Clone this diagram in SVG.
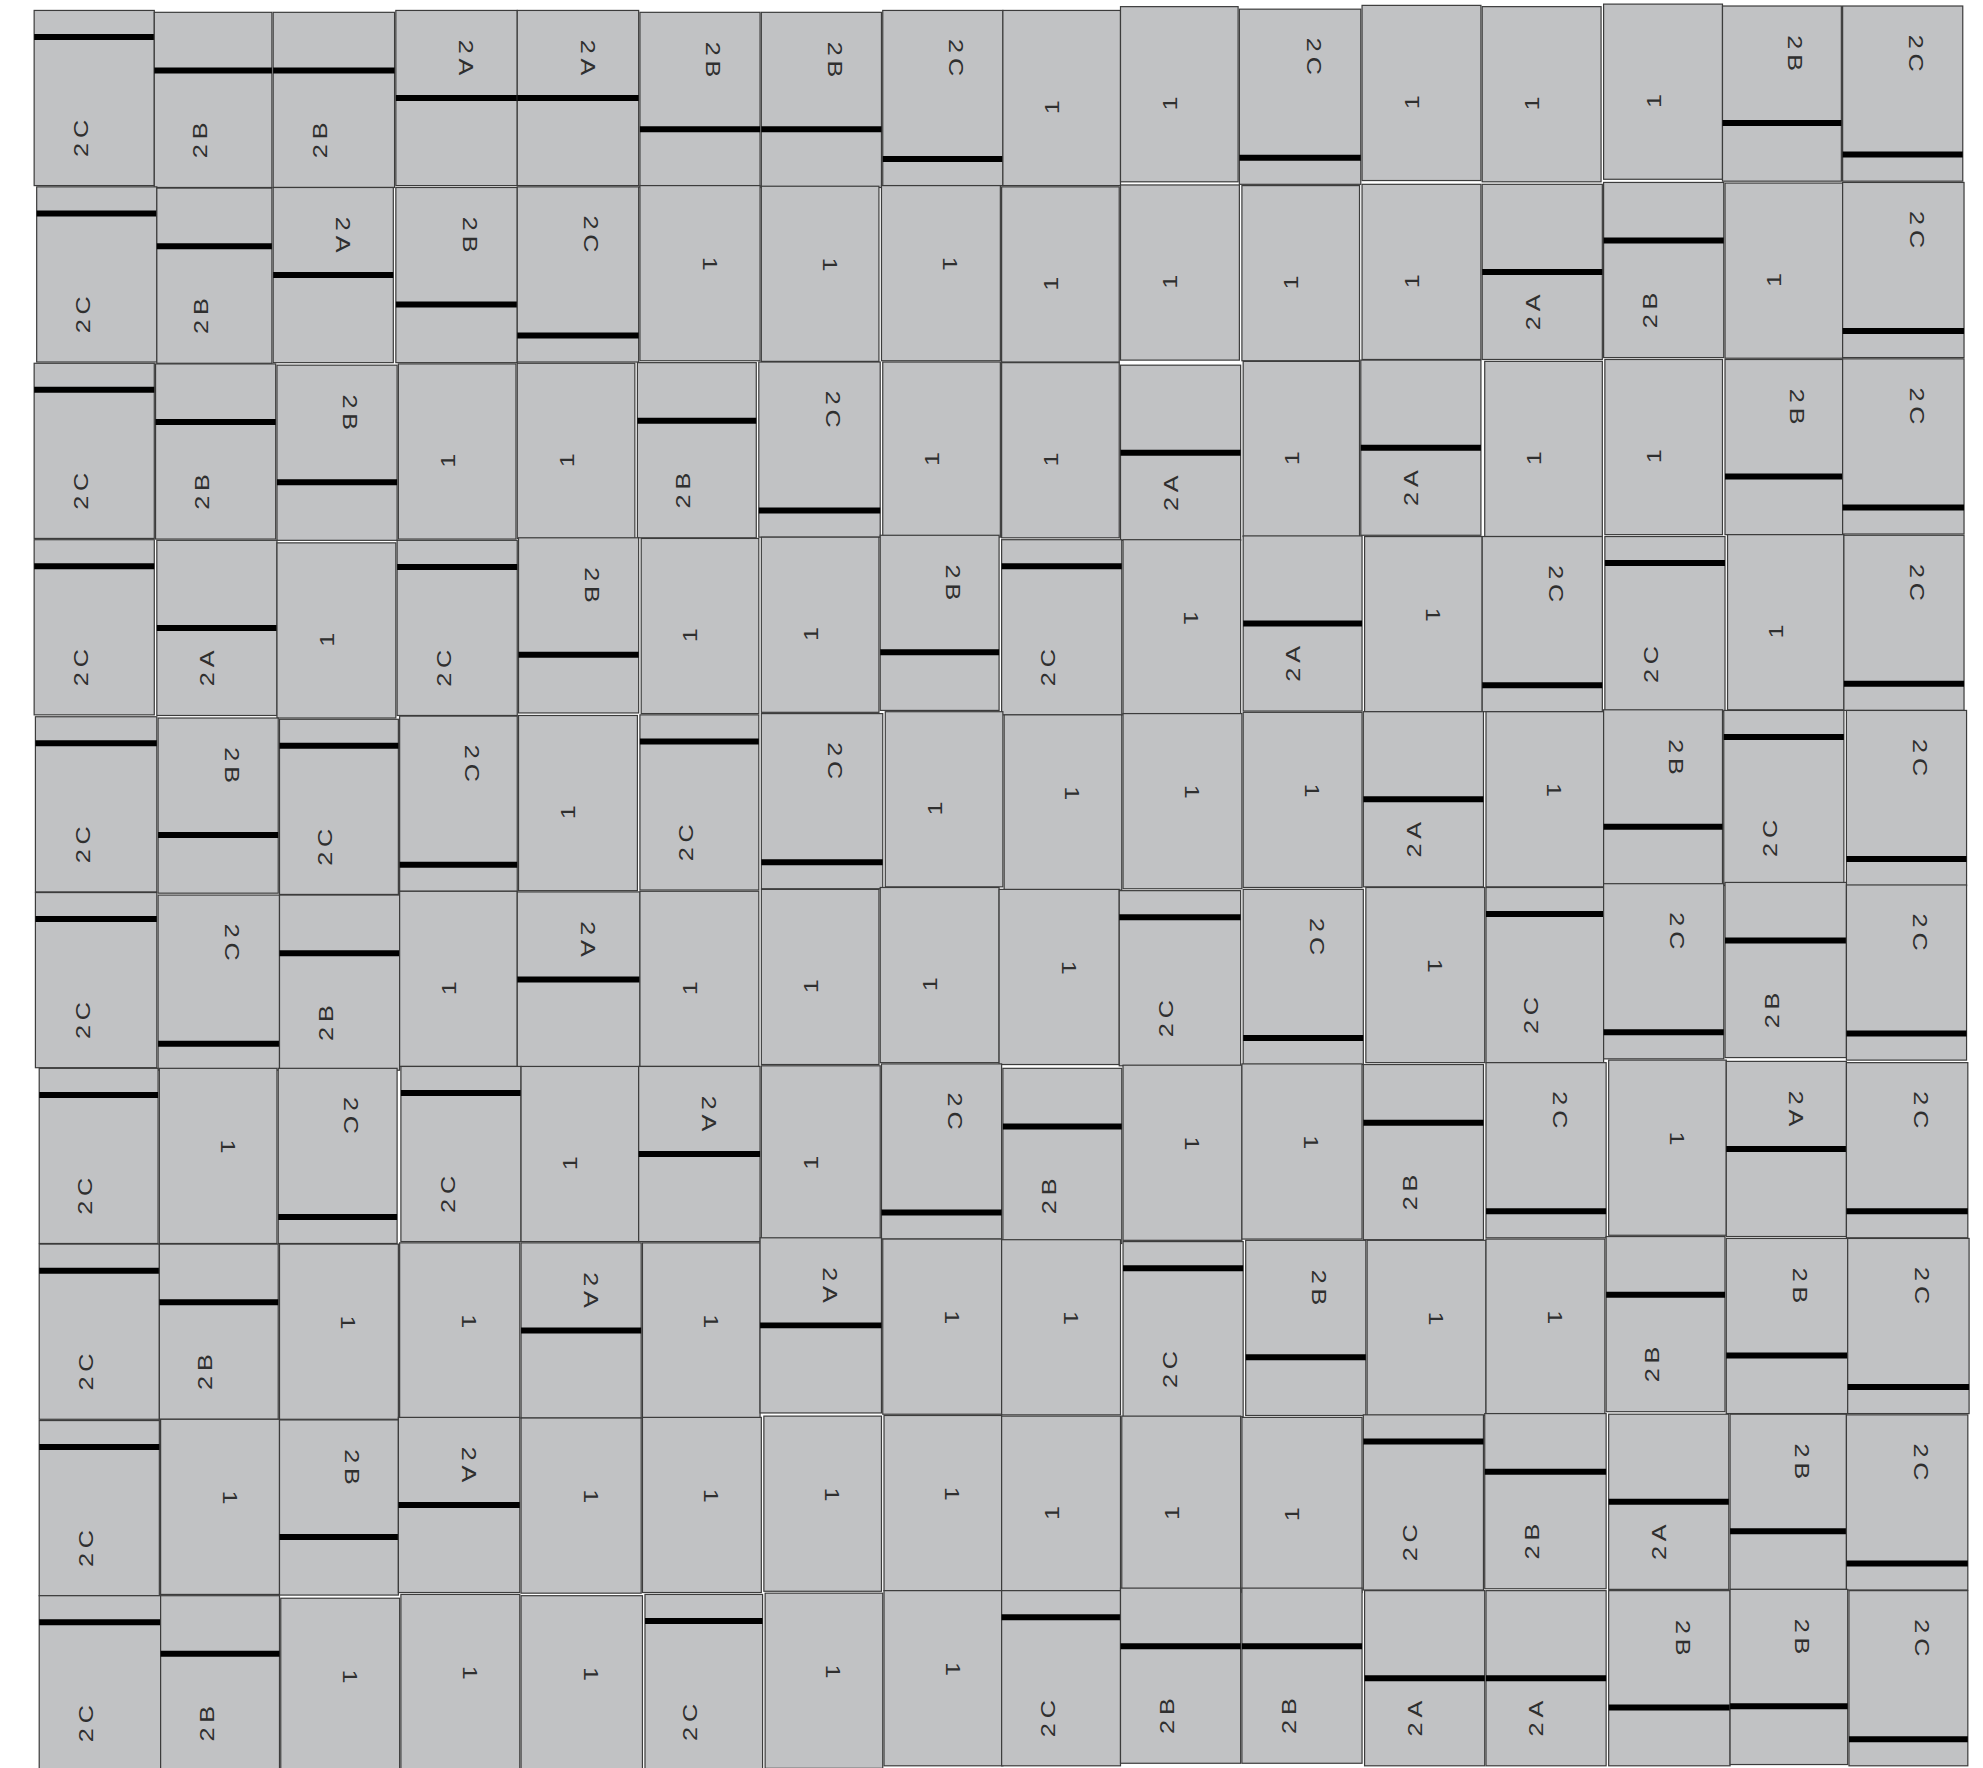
<svg xmlns="http://www.w3.org/2000/svg" width="1983" height="1768" viewBox="0 0 1983 1768">
<style>
.t{fill:#c1c2c4;stroke:#3c3c3c;stroke-width:0.95}
.b{stroke:#000;stroke-width:4.74}
.l{font-family:"Liberation Sans",Arial,sans-serif;font-size:16.6px;fill:#2f2f2f;letter-spacing:3.2px;text-anchor:middle}
</style>
<rect width="1983" height="1768" fill="#fff"/>
<g id="tiles" transform="scale(1.26467)">
<g id="r1c1" transform="translate(74.5,77.5)"><rect class="t" x="-47.5" y="-69.25" width="95" height="138.5"/><line class="b" x1="-47.5" x2="47.5" y1="-48.25" y2="-48.25"/><text class="l" transform="translate(-11,31.6) rotate(-90) scale(1.2,1)" x="1.3" y="5.9">2C</text></g>
<g id="r1c2" transform="translate(168.5,79)"><rect class="t" x="-46.5" y="-69.25" width="93" height="138.5"/><line class="b" x1="-46.5" x2="46.5" y1="-23.25" y2="-23.25"/><text class="l" transform="translate(-11,31.6) rotate(-90) scale(1.2,1)" x="1.3" y="5.9">2B</text></g>
<g id="r1c3" transform="translate(264,79)"><rect class="t" x="-48" y="-69.25" width="96" height="138.5"/><line class="b" x1="-48" x2="48" y1="-23.25" y2="-23.25"/><text class="l" transform="translate(-11,31.6) rotate(-90) scale(1.2,1)" x="1.3" y="5.9">2B</text></g>
<g id="r1c4" transform="translate(361,77.5) rotate(180)"><rect class="t" x="-48" y="-69.25" width="96" height="138.5"/><line class="b" x1="-48" x2="48" y1="0" y2="0"/><text class="l" transform="translate(-8,31.6) rotate(-90) scale(1.2,1)" x="1.3" y="5.9">2A</text></g>
<g id="r1c5" transform="translate(457,77.5) rotate(180)"><rect class="t" x="-48" y="-69.25" width="96" height="138.5"/><line class="b" x1="-48" x2="48" y1="0" y2="0"/><text class="l" transform="translate(-8,31.6) rotate(-90) scale(1.2,1)" x="1.3" y="5.9">2A</text></g>
<g id="r1c6" transform="translate(553.5,79) rotate(180)"><rect class="t" x="-47.5" y="-69.25" width="95" height="138.5"/><line class="b" x1="-47.5" x2="47.5" y1="-23.25" y2="-23.25"/><text class="l" transform="translate(-11,31.6) rotate(-90) scale(1.2,1)" x="1.3" y="5.9">2B</text></g>
<g id="r1c7" transform="translate(649.5,79) rotate(180)"><rect class="t" x="-47.5" y="-69.25" width="95" height="138.5"/><line class="b" x1="-47.5" x2="47.5" y1="-23.25" y2="-23.25"/><text class="l" transform="translate(-11,31.6) rotate(-90) scale(1.2,1)" x="1.3" y="5.9">2B</text></g>
<g id="r1c8" transform="translate(745.5,77.5) rotate(180)"><rect class="t" x="-47.5" y="-69.25" width="95" height="138.5"/><line class="b" x1="-47.5" x2="47.5" y1="-48.25" y2="-48.25"/><text class="l" transform="translate(-11,31.6) rotate(-90) scale(1.2,1)" x="1.3" y="5.9">2C</text></g>
<g id="r1c9" transform="translate(839.5,77.5)"><rect class="t" x="-46.5" y="-69.25" width="93" height="138.5"/><text class="l" transform="translate(-7.9,7) rotate(-90) scale(1.2,1)" x="1.3" y="5.9">1</text></g>
<g id="r1c10" transform="translate(932.5,74.5)"><rect class="t" x="-46.5" y="-69.25" width="93" height="138.5"/><text class="l" transform="translate(-7.9,7) rotate(-90) scale(1.2,1)" x="1.3" y="5.9">1</text></g>
<g id="r1c11" transform="translate(1028,76.5) rotate(180)"><rect class="t" x="-48" y="-69.25" width="96" height="138.5"/><line class="b" x1="-48" x2="48" y1="-48.25" y2="-48.25"/><text class="l" transform="translate(-11,31.6) rotate(-90) scale(1.2,1)" x="1.3" y="5.9">2C</text></g>
<g id="r1c12" transform="translate(1124,73.5)"><rect class="t" x="-47" y="-69.25" width="94" height="138.5"/><text class="l" transform="translate(-7.9,7) rotate(-90) scale(1.2,1)" x="1.3" y="5.9">1</text></g>
<g id="r1c13" transform="translate(1219,74.5)"><rect class="t" x="-47" y="-69.25" width="94" height="138.5"/><text class="l" transform="translate(-7.9,7) rotate(-90) scale(1.2,1)" x="1.3" y="5.9">1</text></g>
<g id="r1c14" transform="translate(1315,72.5)"><rect class="t" x="-47" y="-69.25" width="94" height="138.5"/><text class="l" transform="translate(-7.9,7) rotate(-90) scale(1.2,1)" x="1.3" y="5.9">1</text></g>
<g id="r1c15" transform="translate(1409,74) rotate(180)"><rect class="t" x="-47" y="-69.25" width="94" height="138.5"/><line class="b" x1="-47" x2="47" y1="-23.25" y2="-23.25"/><text class="l" transform="translate(-11,31.6) rotate(-90) scale(1.2,1)" x="1.3" y="5.9">2B</text></g>
<g id="r1c16" transform="translate(1504.5,74) rotate(180)"><rect class="t" x="-47.5" y="-69.25" width="95" height="138.5"/><line class="b" x1="-47.5" x2="47.5" y1="-48.25" y2="-48.25"/><text class="l" transform="translate(-11,31.6) rotate(-90) scale(1.2,1)" x="1.3" y="5.9">2C</text></g>

<g id="r2c1" transform="translate(76.5,217)"><rect class="t" x="-47.5" y="-69.25" width="95" height="138.5"/><line class="b" x1="-47.5" x2="47.5" y1="-48.25" y2="-48.25"/><text class="l" transform="translate(-11,31.6) rotate(-90) scale(1.2,1)" x="1.3" y="5.9">2C</text></g>
<g id="r2c2" transform="translate(169.5,218)"><rect class="t" x="-45.5" y="-69.25" width="91" height="138.5"/><line class="b" x1="-45.5" x2="45.5" y1="-23.25" y2="-23.25"/><text class="l" transform="translate(-11,31.6) rotate(-90) scale(1.2,1)" x="1.3" y="5.9">2B</text></g>
<g id="r2c3" transform="translate(263.5,217.5) rotate(180)"><rect class="t" x="-47.5" y="-69.25" width="95" height="138.5"/><line class="b" x1="-47.5" x2="47.5" y1="0" y2="0"/><text class="l" transform="translate(-8,31.6) rotate(-90) scale(1.2,1)" x="1.3" y="5.9">2A</text></g>
<g id="r2c4" transform="translate(361,217.5) rotate(180)"><rect class="t" x="-48" y="-69.25" width="96" height="138.5"/><line class="b" x1="-48" x2="48" y1="-23.25" y2="-23.25"/><text class="l" transform="translate(-11,31.6) rotate(-90) scale(1.2,1)" x="1.3" y="5.9">2B</text></g>
<g id="r2c5" transform="translate(457,217) rotate(180)"><rect class="t" x="-48" y="-69.25" width="96" height="138.5"/><line class="b" x1="-48" x2="48" y1="-48.25" y2="-48.25"/><text class="l" transform="translate(-11,31.6) rotate(-90) scale(1.2,1)" x="1.3" y="5.9">2C</text></g>
<g id="r2c6" transform="translate(553.5,216) rotate(180)"><rect class="t" x="-47.5" y="-69.25" width="95" height="138.5"/><text class="l" transform="translate(-7.9,7) rotate(-90) scale(1.2,1)" x="1.3" y="5.9">1</text></g>
<g id="r2c7" transform="translate(648.5,216.5) rotate(180)"><rect class="t" x="-46.5" y="-69.25" width="93" height="138.5"/><text class="l" transform="translate(-7.9,7) rotate(-90) scale(1.2,1)" x="1.3" y="5.9">1</text></g>
<g id="r2c8" transform="translate(744,216) rotate(180)"><rect class="t" x="-47" y="-69.25" width="94" height="138.5"/><text class="l" transform="translate(-7.9,7) rotate(-90) scale(1.2,1)" x="1.3" y="5.9">1</text></g>
<g id="r2c9" transform="translate(838.5,217)"><rect class="t" x="-46.5" y="-69.25" width="93" height="138.5"/><text class="l" transform="translate(-7.9,7) rotate(-90) scale(1.2,1)" x="1.3" y="5.9">1</text></g>
<g id="r2c10" transform="translate(933,215.5)"><rect class="t" x="-47" y="-69.25" width="94" height="138.5"/><text class="l" transform="translate(-7.9,7) rotate(-90) scale(1.2,1)" x="1.3" y="5.9">1</text></g>
<g id="r2c11" transform="translate(1028.5,216)"><rect class="t" x="-46.5" y="-69.25" width="93" height="138.5"/><text class="l" transform="translate(-7.9,7) rotate(-90) scale(1.2,1)" x="1.3" y="5.9">1</text></g>
<g id="r2c12" transform="translate(1124,215)"><rect class="t" x="-47" y="-69.25" width="94" height="138.5"/><text class="l" transform="translate(-7.9,7) rotate(-90) scale(1.2,1)" x="1.3" y="5.9">1</text></g>
<g id="r2c13" transform="translate(1219.5,215)"><rect class="t" x="-47.5" y="-69.25" width="95" height="138.5"/><line class="b" x1="-47.5" x2="47.5" y1="0" y2="0"/><text class="l" transform="translate(-8,31.6) rotate(-90) scale(1.2,1)" x="1.3" y="5.9">2A</text></g>
<g id="r2c14" transform="translate(1315.5,213.5)"><rect class="t" x="-47.5" y="-69.25" width="95" height="138.5"/><line class="b" x1="-47.5" x2="47.5" y1="-23.25" y2="-23.25"/><text class="l" transform="translate(-11,31.6) rotate(-90) scale(1.2,1)" x="1.3" y="5.9">2B</text></g>
<g id="r2c15" transform="translate(1410.5,214)"><rect class="t" x="-46.5" y="-69.25" width="93" height="138.5"/><text class="l" transform="translate(-7.9,7) rotate(-90) scale(1.2,1)" x="1.3" y="5.9">1</text></g>
<g id="r2c16" transform="translate(1505,213.5) rotate(180)"><rect class="t" x="-48" y="-69.25" width="96" height="138.5"/><line class="b" x1="-48" x2="48" y1="-48.25" y2="-48.25"/><text class="l" transform="translate(-11,31.6) rotate(-90) scale(1.2,1)" x="1.3" y="5.9">2C</text></g>

<g id="r3c1" transform="translate(74.5,356.5)"><rect class="t" x="-47.5" y="-69.25" width="95" height="138.5"/><line class="b" x1="-47.5" x2="47.5" y1="-48.25" y2="-48.25"/><text class="l" transform="translate(-11,31.6) rotate(-90) scale(1.2,1)" x="1.3" y="5.9">2C</text></g>
<g id="r3c2" transform="translate(170.5,357)"><rect class="t" x="-47.5" y="-69.25" width="95" height="138.5"/><line class="b" x1="-47.5" x2="47.5" y1="-23.25" y2="-23.25"/><text class="l" transform="translate(-11,31.6) rotate(-90) scale(1.2,1)" x="1.3" y="5.9">2B</text></g>
<g id="r3c3" transform="translate(266.5,358) rotate(180)"><rect class="t" x="-47.5" y="-69.25" width="95" height="138.5"/><line class="b" x1="-47.5" x2="47.5" y1="-23.25" y2="-23.25"/><text class="l" transform="translate(-11,31.6) rotate(-90) scale(1.2,1)" x="1.3" y="5.9">2B</text></g>
<g id="r3c4" transform="translate(361.5,357)"><rect class="t" x="-46.5" y="-69.25" width="93" height="138.5"/><text class="l" transform="translate(-7.9,7) rotate(-90) scale(1.2,1)" x="1.3" y="5.9">1</text></g>
<g id="r3c5" transform="translate(455.5,356.5)"><rect class="t" x="-46.5" y="-69.25" width="93" height="138.5"/><text class="l" transform="translate(-7.9,7) rotate(-90) scale(1.2,1)" x="1.3" y="5.9">1</text></g>
<g id="r3c6" transform="translate(551,356)"><rect class="t" x="-47" y="-69.25" width="94" height="138.5"/><line class="b" x1="-47" x2="47" y1="-23.25" y2="-23.25"/><text class="l" transform="translate(-11,31.6) rotate(-90) scale(1.2,1)" x="1.3" y="5.9">2B</text></g>
<g id="r3c7" transform="translate(648,355.5) rotate(180)"><rect class="t" x="-48" y="-69.25" width="96" height="138.5"/><line class="b" x1="-48" x2="48" y1="-48.25" y2="-48.25"/><text class="l" transform="translate(-11,31.6) rotate(-90) scale(1.2,1)" x="1.3" y="5.9">2C</text></g>
<g id="r3c8" transform="translate(744.5,355.5)"><rect class="t" x="-46.5" y="-69.25" width="93" height="138.5"/><text class="l" transform="translate(-7.9,7) rotate(-90) scale(1.2,1)" x="1.3" y="5.9">1</text></g>
<g id="r3c9" transform="translate(838.5,356)"><rect class="t" x="-46.5" y="-69.25" width="93" height="138.5"/><text class="l" transform="translate(-7.9,7) rotate(-90) scale(1.2,1)" x="1.3" y="5.9">1</text></g>
<g id="r3c10" transform="translate(933.5,358)"><rect class="t" x="-47.5" y="-69.25" width="95" height="138.5"/><line class="b" x1="-47.5" x2="47.5" y1="0" y2="0"/><text class="l" transform="translate(-8,31.6) rotate(-90) scale(1.2,1)" x="1.3" y="5.9">2A</text></g>
<g id="r3c11" transform="translate(1029,355)"><rect class="t" x="-46" y="-69.25" width="92" height="138.5"/><text class="l" transform="translate(-7.9,7) rotate(-90) scale(1.2,1)" x="1.3" y="5.9">1</text></g>
<g id="r3c12" transform="translate(1123.5,354)"><rect class="t" x="-47.5" y="-69.25" width="95" height="138.5"/><line class="b" x1="-47.5" x2="47.5" y1="0" y2="0"/><text class="l" transform="translate(-8,31.6) rotate(-90) scale(1.2,1)" x="1.3" y="5.9">2A</text></g>
<g id="r3c13" transform="translate(1220.5,355)"><rect class="t" x="-46.5" y="-69.25" width="93" height="138.5"/><text class="l" transform="translate(-7.9,7) rotate(-90) scale(1.2,1)" x="1.3" y="5.9">1</text></g>
<g id="r3c14" transform="translate(1315.5,353.5)"><rect class="t" x="-46.5" y="-69.25" width="93" height="138.5"/><text class="l" transform="translate(-7.9,7) rotate(-90) scale(1.2,1)" x="1.3" y="5.9">1</text></g>
<g id="r3c15" transform="translate(1410.5,353.5) rotate(180)"><rect class="t" x="-46.5" y="-69.25" width="93" height="138.5"/><line class="b" x1="-46.5" x2="46.5" y1="-23.25" y2="-23.25"/><text class="l" transform="translate(-11,31.6) rotate(-90) scale(1.2,1)" x="1.3" y="5.9">2B</text></g>
<g id="r3c16" transform="translate(1505,353) rotate(180)"><rect class="t" x="-48" y="-69.25" width="96" height="138.5"/><line class="b" x1="-48" x2="48" y1="-48.25" y2="-48.25"/><text class="l" transform="translate(-11,31.6) rotate(-90) scale(1.2,1)" x="1.3" y="5.9">2C</text></g>

<g id="r4c1" transform="translate(74.5,496)"><rect class="t" x="-47.5" y="-69.25" width="95" height="138.5"/><line class="b" x1="-47.5" x2="47.5" y1="-48.25" y2="-48.25"/><text class="l" transform="translate(-11,31.6) rotate(-90) scale(1.2,1)" x="1.3" y="5.9">2C</text></g>
<g id="r4c2" transform="translate(171.5,496.5)"><rect class="t" x="-47.5" y="-69.25" width="95" height="138.5"/><line class="b" x1="-47.5" x2="47.5" y1="0" y2="0"/><text class="l" transform="translate(-8,31.6) rotate(-90) scale(1.2,1)" x="1.3" y="5.9">2A</text></g>
<g id="r4c3" transform="translate(266,498.5)"><rect class="t" x="-47" y="-69.25" width="94" height="138.5"/><text class="l" transform="translate(-7.9,7) rotate(-90) scale(1.2,1)" x="1.3" y="5.9">1</text></g>
<g id="r4c4" transform="translate(361.5,496.5)"><rect class="t" x="-47.5" y="-69.25" width="95" height="138.5"/><line class="b" x1="-47.5" x2="47.5" y1="-48.25" y2="-48.25"/><text class="l" transform="translate(-11,31.6) rotate(-90) scale(1.2,1)" x="1.3" y="5.9">2C</text></g>
<g id="r4c5" transform="translate(457.5,494.5) rotate(180)"><rect class="t" x="-47.5" y="-69.25" width="95" height="138.5"/><line class="b" x1="-47.5" x2="47.5" y1="-23.25" y2="-23.25"/><text class="l" transform="translate(-11,31.6) rotate(-90) scale(1.2,1)" x="1.3" y="5.9">2B</text></g>
<g id="r4c6" transform="translate(553.5,495)"><rect class="t" x="-46.5" y="-69.25" width="93" height="138.5"/><text class="l" transform="translate(-7.9,7) rotate(-90) scale(1.2,1)" x="1.3" y="5.9">1</text></g>
<g id="r4c7" transform="translate(648.5,494)"><rect class="t" x="-46.5" y="-69.25" width="93" height="138.5"/><text class="l" transform="translate(-7.9,7) rotate(-90) scale(1.2,1)" x="1.3" y="5.9">1</text></g>
<g id="r4c8" transform="translate(743,492.5) rotate(180)"><rect class="t" x="-47" y="-69.25" width="94" height="138.5"/><line class="b" x1="-47" x2="47" y1="-23.25" y2="-23.25"/><text class="l" transform="translate(-11,31.6) rotate(-90) scale(1.2,1)" x="1.3" y="5.9">2B</text></g>
<g id="r4c9" transform="translate(839.5,496)"><rect class="t" x="-47.5" y="-69.25" width="95" height="138.5"/><line class="b" x1="-47.5" x2="47.5" y1="-48.25" y2="-48.25"/><text class="l" transform="translate(-11,31.6) rotate(-90) scale(1.2,1)" x="1.3" y="5.9">2C</text></g>
<g id="r4c10" transform="translate(934.5,496) rotate(180)"><rect class="t" x="-46.5" y="-69.25" width="93" height="138.5"/><text class="l" transform="translate(-7.9,7) rotate(-90) scale(1.2,1)" x="1.3" y="5.9">1</text></g>
<g id="r4c11" transform="translate(1030,493)"><rect class="t" x="-47" y="-69.25" width="94" height="138.5"/><line class="b" x1="-47" x2="47" y1="0" y2="0"/><text class="l" transform="translate(-8,31.6) rotate(-90) scale(1.2,1)" x="1.3" y="5.9">2A</text></g>
<g id="r4c12" transform="translate(1125.5,493.5) rotate(180)"><rect class="t" x="-46.5" y="-69.25" width="93" height="138.5"/><text class="l" transform="translate(-7.9,7) rotate(-90) scale(1.2,1)" x="1.3" y="5.9">1</text></g>
<g id="r4c13" transform="translate(1219.5,493.5) rotate(180)"><rect class="t" x="-47.5" y="-69.25" width="95" height="138.5"/><line class="b" x1="-47.5" x2="47.5" y1="-48.25" y2="-48.25"/><text class="l" transform="translate(-11,31.6) rotate(-90) scale(1.2,1)" x="1.3" y="5.9">2C</text></g>
<g id="r4c14" transform="translate(1316.5,493.5)"><rect class="t" x="-47.5" y="-69.25" width="95" height="138.5"/><line class="b" x1="-47.5" x2="47.5" y1="-48.25" y2="-48.25"/><text class="l" transform="translate(-11,31.6) rotate(-90) scale(1.2,1)" x="1.3" y="5.9">2C</text></g>
<g id="r4c15" transform="translate(1412,492)"><rect class="t" x="-46" y="-69.25" width="92" height="138.5"/><text class="l" transform="translate(-7.9,7) rotate(-90) scale(1.2,1)" x="1.3" y="5.9">1</text></g>
<g id="r4c16" transform="translate(1505.5,492.5) rotate(180)"><rect class="t" x="-47.5" y="-69.25" width="95" height="138.5"/><line class="b" x1="-47.5" x2="47.5" y1="-48.25" y2="-48.25"/><text class="l" transform="translate(-11,31.6) rotate(-90) scale(1.2,1)" x="1.3" y="5.9">2C</text></g>

<g id="r5c1" transform="translate(76,636)"><rect class="t" x="-48" y="-69.25" width="96" height="138.5"/><line class="b" x1="-48" x2="48" y1="-48.25" y2="-48.25"/><text class="l" transform="translate(-11,31.6) rotate(-90) scale(1.2,1)" x="1.3" y="5.9">2C</text></g>
<g id="r5c2" transform="translate(172.5,637) rotate(180)"><rect class="t" x="-47.5" y="-69.25" width="95" height="138.5"/><line class="b" x1="-47.5" x2="47.5" y1="-23.25" y2="-23.25"/><text class="l" transform="translate(-11,31.6) rotate(-90) scale(1.2,1)" x="1.3" y="5.9">2B</text></g>
<g id="r5c3" transform="translate(268,638)"><rect class="t" x="-47" y="-69.25" width="94" height="138.5"/><line class="b" x1="-47" x2="47" y1="-48.25" y2="-48.25"/><text class="l" transform="translate(-11,31.6) rotate(-90) scale(1.2,1)" x="1.3" y="5.9">2C</text></g>
<g id="r5c4" transform="translate(362.5,635.5) rotate(180)"><rect class="t" x="-46.5" y="-69.25" width="93" height="138.5"/><line class="b" x1="-46.5" x2="46.5" y1="-48.25" y2="-48.25"/><text class="l" transform="translate(-11,31.6) rotate(-90) scale(1.2,1)" x="1.3" y="5.9">2C</text></g>
<g id="r5c5" transform="translate(457,635)"><rect class="t" x="-47" y="-69.25" width="94" height="138.5"/><text class="l" transform="translate(-7.9,7) rotate(-90) scale(1.2,1)" x="1.3" y="5.9">1</text></g>
<g id="r5c6" transform="translate(553,634.5)"><rect class="t" x="-47" y="-69.25" width="94" height="138.5"/><line class="b" x1="-47" x2="47" y1="-48.25" y2="-48.25"/><text class="l" transform="translate(-11,31.6) rotate(-90) scale(1.2,1)" x="1.3" y="5.9">2C</text></g>
<g id="r5c7" transform="translate(650,633.5) rotate(180)"><rect class="t" x="-48" y="-69.25" width="96" height="138.5"/><line class="b" x1="-48" x2="48" y1="-48.25" y2="-48.25"/><text class="l" transform="translate(-11,31.6) rotate(-90) scale(1.2,1)" x="1.3" y="5.9">2C</text></g>
<g id="r5c8" transform="translate(746.5,632)"><rect class="t" x="-46.5" y="-69.25" width="93" height="138.5"/><text class="l" transform="translate(-7.9,7) rotate(-90) scale(1.2,1)" x="1.3" y="5.9">1</text></g>
<g id="r5c9" transform="translate(840.5,634.5) rotate(180)"><rect class="t" x="-46.5" y="-69.25" width="93" height="138.5"/><text class="l" transform="translate(-7.9,7) rotate(-90) scale(1.2,1)" x="1.3" y="5.9">1</text></g>
<g id="r5c10" transform="translate(935,633.5) rotate(180)"><rect class="t" x="-47" y="-69.25" width="94" height="138.5"/><text class="l" transform="translate(-7.9,7) rotate(-90) scale(1.2,1)" x="1.3" y="5.9">1</text></g>
<g id="r5c11" transform="translate(1030,632.5) rotate(180)"><rect class="t" x="-47" y="-69.25" width="94" height="138.5"/><text class="l" transform="translate(-7.9,7) rotate(-90) scale(1.2,1)" x="1.3" y="5.9">1</text></g>
<g id="r5c12" transform="translate(1125.5,632)"><rect class="t" x="-47.5" y="-69.25" width="95" height="138.5"/><line class="b" x1="-47.5" x2="47.5" y1="0" y2="0"/><text class="l" transform="translate(-8,31.6) rotate(-90) scale(1.2,1)" x="1.3" y="5.9">2A</text></g>
<g id="r5c13" transform="translate(1221.5,632) rotate(180)"><rect class="t" x="-46.5" y="-69.25" width="93" height="138.5"/><text class="l" transform="translate(-7.9,7) rotate(-90) scale(1.2,1)" x="1.3" y="5.9">1</text></g>
<g id="r5c14" transform="translate(1315,630.5) rotate(180)"><rect class="t" x="-47" y="-69.25" width="94" height="138.5"/><line class="b" x1="-47" x2="47" y1="-23.25" y2="-23.25"/><text class="l" transform="translate(-11,31.6) rotate(-90) scale(1.2,1)" x="1.3" y="5.9">2B</text></g>
<g id="r5c15" transform="translate(1410.5,631)"><rect class="t" x="-47.5" y="-69.25" width="95" height="138.5"/><line class="b" x1="-47.5" x2="47.5" y1="-48.25" y2="-48.25"/><text class="l" transform="translate(-11,31.6) rotate(-90) scale(1.2,1)" x="1.3" y="5.9">2C</text></g>
<g id="r5c16" transform="translate(1507.5,631) rotate(180)"><rect class="t" x="-47.5" y="-69.25" width="95" height="138.5"/><line class="b" x1="-47.5" x2="47.5" y1="-48.25" y2="-48.25"/><text class="l" transform="translate(-11,31.6) rotate(-90) scale(1.2,1)" x="1.3" y="5.9">2C</text></g>

<g id="r6c1" transform="translate(76,775)"><rect class="t" x="-48" y="-69.25" width="96" height="138.5"/><line class="b" x1="-48" x2="48" y1="-48.25" y2="-48.25"/><text class="l" transform="translate(-11,31.6) rotate(-90) scale(1.2,1)" x="1.3" y="5.9">2C</text></g>
<g id="r6c2" transform="translate(173,777) rotate(180)"><rect class="t" x="-48" y="-69.25" width="96" height="138.5"/><line class="b" x1="-48" x2="48" y1="-48.25" y2="-48.25"/><text class="l" transform="translate(-11,31.6) rotate(-90) scale(1.2,1)" x="1.3" y="5.9">2C</text></g>
<g id="r6c3" transform="translate(268.5,777)"><rect class="t" x="-47.5" y="-69.25" width="95" height="138.5"/><line class="b" x1="-47.5" x2="47.5" y1="-23.25" y2="-23.25"/><text class="l" transform="translate(-11,31.6) rotate(-90) scale(1.2,1)" x="1.3" y="5.9">2B</text></g>
<g id="r6c4" transform="translate(362.5,774)"><rect class="t" x="-46.5" y="-69.25" width="93" height="138.5"/><text class="l" transform="translate(-7.9,7) rotate(-90) scale(1.2,1)" x="1.3" y="5.9">1</text></g>
<g id="r6c5" transform="translate(457.5,774.5) rotate(180)"><rect class="t" x="-48.5" y="-69.25" width="97" height="138.5"/><line class="b" x1="-48.5" x2="48.5" y1="0" y2="0"/><text class="l" transform="translate(-8,31.6) rotate(-90) scale(1.2,1)" x="1.3" y="5.9">2A</text></g>
<g id="r6c6" transform="translate(553,774)"><rect class="t" x="-47" y="-69.25" width="94" height="138.5"/><text class="l" transform="translate(-7.9,7) rotate(-90) scale(1.2,1)" x="1.3" y="5.9">1</text></g>
<g id="r6c7" transform="translate(648.5,772.5)"><rect class="t" x="-46.5" y="-69.25" width="93" height="138.5"/><text class="l" transform="translate(-7.9,7) rotate(-90) scale(1.2,1)" x="1.3" y="5.9">1</text></g>
<g id="r6c8" transform="translate(743,771)"><rect class="t" x="-47" y="-69.25" width="94" height="138.5"/><text class="l" transform="translate(-7.9,7) rotate(-90) scale(1.2,1)" x="1.3" y="5.9">1</text></g>
<g id="r6c9" transform="translate(837.5,772.5) rotate(180)"><rect class="t" x="-47.5" y="-69.25" width="95" height="138.5"/><text class="l" transform="translate(-7.9,7) rotate(-90) scale(1.2,1)" x="1.3" y="5.9">1</text></g>
<g id="r6c10" transform="translate(933,773.5)"><rect class="t" x="-48" y="-69.25" width="96" height="138.5"/><line class="b" x1="-48" x2="48" y1="-48.25" y2="-48.25"/><text class="l" transform="translate(-11,31.6) rotate(-90) scale(1.2,1)" x="1.3" y="5.9">2C</text></g>
<g id="r6c11" transform="translate(1030.5,772.5) rotate(180)"><rect class="t" x="-47.5" y="-69.25" width="95" height="138.5"/><line class="b" x1="-47.5" x2="47.5" y1="-48.25" y2="-48.25"/><text class="l" transform="translate(-11,31.6) rotate(-90) scale(1.2,1)" x="1.3" y="5.9">2C</text></g>
<g id="r6c12" transform="translate(1127,771) rotate(180)"><rect class="t" x="-47" y="-69.25" width="94" height="138.5"/><text class="l" transform="translate(-7.9,7) rotate(-90) scale(1.2,1)" x="1.3" y="5.9">1</text></g>
<g id="r6c13" transform="translate(1221.5,771)"><rect class="t" x="-46.5" y="-69.25" width="93" height="138.5"/><line class="b" x1="-46.5" x2="46.5" y1="-48.25" y2="-48.25"/><text class="l" transform="translate(-11,31.6) rotate(-90) scale(1.2,1)" x="1.3" y="5.9">2C</text></g>
<g id="r6c14" transform="translate(1315.5,768) rotate(180)"><rect class="t" x="-47.5" y="-69.25" width="95" height="138.5"/><line class="b" x1="-47.5" x2="47.5" y1="-48.25" y2="-48.25"/><text class="l" transform="translate(-11,31.6) rotate(-90) scale(1.2,1)" x="1.3" y="5.9">2C</text></g>
<g id="r6c15" transform="translate(1412,767)"><rect class="t" x="-48" y="-69.25" width="96" height="138.5"/><line class="b" x1="-48" x2="48" y1="-23.25" y2="-23.25"/><text class="l" transform="translate(-11,31.6) rotate(-90) scale(1.2,1)" x="1.3" y="5.9">2B</text></g>
<g id="r6c16" transform="translate(1507.5,769) rotate(180)"><rect class="t" x="-47.5" y="-69.25" width="95" height="138.5"/><line class="b" x1="-47.5" x2="47.5" y1="-48.25" y2="-48.25"/><text class="l" transform="translate(-11,31.6) rotate(-90) scale(1.2,1)" x="1.3" y="5.9">2C</text></g>

<g id="r7c1" transform="translate(78,914)"><rect class="t" x="-47" y="-69.25" width="94" height="138.5"/><line class="b" x1="-47" x2="47" y1="-48.25" y2="-48.25"/><text class="l" transform="translate(-11,31.6) rotate(-90) scale(1.2,1)" x="1.3" y="5.9">2C</text></g>
<g id="r7c2" transform="translate(172.5,914) rotate(180)"><rect class="t" x="-46.5" y="-69.25" width="93" height="138.5"/><text class="l" transform="translate(-7.9,7) rotate(-90) scale(1.2,1)" x="1.3" y="5.9">1</text></g>
<g id="r7c3" transform="translate(267,914) rotate(180)"><rect class="t" x="-47" y="-69.25" width="94" height="138.5"/><line class="b" x1="-47" x2="47" y1="-48.25" y2="-48.25"/><text class="l" transform="translate(-11,31.6) rotate(-90) scale(1.2,1)" x="1.3" y="5.9">2C</text></g>
<g id="r7c4" transform="translate(364.5,912.5)"><rect class="t" x="-47.5" y="-69.25" width="95" height="138.5"/><line class="b" x1="-47.5" x2="47.5" y1="-48.25" y2="-48.25"/><text class="l" transform="translate(-11,31.6) rotate(-90) scale(1.2,1)" x="1.3" y="5.9">2C</text></g>
<g id="r7c5" transform="translate(458.5,912.5)"><rect class="t" x="-46.5" y="-69.25" width="93" height="138.5"/><text class="l" transform="translate(-7.9,7) rotate(-90) scale(1.2,1)" x="1.3" y="5.9">1</text></g>
<g id="r7c6" transform="translate(553,912.5) rotate(180)"><rect class="t" x="-48" y="-69.25" width="96" height="138.5"/><line class="b" x1="-48" x2="48" y1="0" y2="0"/><text class="l" transform="translate(-8,31.6) rotate(-90) scale(1.2,1)" x="1.3" y="5.9">2A</text></g>
<g id="r7c7" transform="translate(649,912)"><rect class="t" x="-47" y="-69.25" width="94" height="138.5"/><text class="l" transform="translate(-7.9,7) rotate(-90) scale(1.2,1)" x="1.3" y="5.9">1</text></g>
<g id="r7c8" transform="translate(744.5,910.5) rotate(180)"><rect class="t" x="-47.5" y="-69.25" width="95" height="138.5"/><line class="b" x1="-47.5" x2="47.5" y1="-48.25" y2="-48.25"/><text class="l" transform="translate(-11,31.6) rotate(-90) scale(1.2,1)" x="1.3" y="5.9">2C</text></g>
<g id="r7c9" transform="translate(840,914)"><rect class="t" x="-47" y="-69.25" width="94" height="138.5"/><line class="b" x1="-47" x2="47" y1="-23.25" y2="-23.25"/><text class="l" transform="translate(-11,31.6) rotate(-90) scale(1.2,1)" x="1.3" y="5.9">2B</text></g>
<g id="r7c10" transform="translate(935,911.5) rotate(180)"><rect class="t" x="-47" y="-69.25" width="94" height="138.5"/><text class="l" transform="translate(-7.9,7) rotate(-90) scale(1.2,1)" x="1.3" y="5.9">1</text></g>
<g id="r7c11" transform="translate(1029.5,910.5) rotate(180)"><rect class="t" x="-47.5" y="-69.25" width="95" height="138.5"/><text class="l" transform="translate(-7.9,7) rotate(-90) scale(1.2,1)" x="1.3" y="5.9">1</text></g>
<g id="r7c12" transform="translate(1125.5,911)"><rect class="t" x="-47.5" y="-69.25" width="95" height="138.5"/><line class="b" x1="-47.5" x2="47.5" y1="-23.25" y2="-23.25"/><text class="l" transform="translate(-11,31.6) rotate(-90) scale(1.2,1)" x="1.3" y="5.9">2B</text></g>
<g id="r7c13" transform="translate(1222.5,909.5) rotate(180)"><rect class="t" x="-47.5" y="-69.25" width="95" height="138.5"/><line class="b" x1="-47.5" x2="47.5" y1="-48.25" y2="-48.25"/><text class="l" transform="translate(-11,31.6) rotate(-90) scale(1.2,1)" x="1.3" y="5.9">2C</text></g>
<g id="r7c14" transform="translate(1318.5,907.5) rotate(180)"><rect class="t" x="-46.5" y="-69.25" width="93" height="138.5"/><text class="l" transform="translate(-7.9,7) rotate(-90) scale(1.2,1)" x="1.3" y="5.9">1</text></g>
<g id="r7c15" transform="translate(1412.5,908.5) rotate(180)"><rect class="t" x="-47.5" y="-69.25" width="95" height="138.5"/><line class="b" x1="-47.5" x2="47.5" y1="0" y2="0"/><text class="l" transform="translate(-8,31.6) rotate(-90) scale(1.2,1)" x="1.3" y="5.9">2A</text></g>
<g id="r7c16" transform="translate(1508,909.5) rotate(180)"><rect class="t" x="-48" y="-69.25" width="96" height="138.5"/><line class="b" x1="-48" x2="48" y1="-48.25" y2="-48.25"/><text class="l" transform="translate(-11,31.6) rotate(-90) scale(1.2,1)" x="1.3" y="5.9">2C</text></g>

<g id="r8c1" transform="translate(78.5,1053)"><rect class="t" x="-47.5" y="-69.25" width="95" height="138.5"/><line class="b" x1="-47.5" x2="47.5" y1="-48.25" y2="-48.25"/><text class="l" transform="translate(-11,31.6) rotate(-90) scale(1.2,1)" x="1.3" y="5.9">2C</text></g>
<g id="r8c2" transform="translate(173,1053)"><rect class="t" x="-47" y="-69.25" width="94" height="138.5"/><line class="b" x1="-47" x2="47" y1="-23.25" y2="-23.25"/><text class="l" transform="translate(-11,31.6) rotate(-90) scale(1.2,1)" x="1.3" y="5.9">2B</text></g>
<g id="r8c3" transform="translate(268,1053) rotate(180)"><rect class="t" x="-47" y="-69.25" width="94" height="138.5"/><text class="l" transform="translate(-7.9,7) rotate(-90) scale(1.2,1)" x="1.3" y="5.9">1</text></g>
<g id="r8c4" transform="translate(363.5,1052) rotate(180)"><rect class="t" x="-47.5" y="-69.25" width="95" height="138.5"/><text class="l" transform="translate(-7.9,7) rotate(-90) scale(1.2,1)" x="1.3" y="5.9">1</text></g>
<g id="r8c5" transform="translate(459.5,1052) rotate(180)"><rect class="t" x="-47.5" y="-69.25" width="95" height="138.5"/><line class="b" x1="-47.5" x2="47.5" y1="0" y2="0"/><text class="l" transform="translate(-8,31.6) rotate(-90) scale(1.2,1)" x="1.3" y="5.9">2A</text></g>
<g id="r8c6" transform="translate(554.5,1052) rotate(180)"><rect class="t" x="-46.5" y="-69.25" width="93" height="138.5"/><text class="l" transform="translate(-7.9,7) rotate(-90) scale(1.2,1)" x="1.3" y="5.9">1</text></g>
<g id="r8c7" transform="translate(649,1048) rotate(180)"><rect class="t" x="-48" y="-69.25" width="96" height="138.5"/><line class="b" x1="-48" x2="48" y1="0" y2="0"/><text class="l" transform="translate(-8,31.6) rotate(-90) scale(1.2,1)" x="1.3" y="5.9">2A</text></g>
<g id="r8c8" transform="translate(745,1049) rotate(180)"><rect class="t" x="-47" y="-69.25" width="94" height="138.5"/><text class="l" transform="translate(-7.9,7) rotate(-90) scale(1.2,1)" x="1.3" y="5.9">1</text></g>
<g id="r8c9" transform="translate(839,1049.5) rotate(180)"><rect class="t" x="-47" y="-69.25" width="94" height="138.5"/><text class="l" transform="translate(-7.9,7) rotate(-90) scale(1.2,1)" x="1.3" y="5.9">1</text></g>
<g id="r8c10" transform="translate(935.5,1051)"><rect class="t" x="-47.5" y="-69.25" width="95" height="138.5"/><line class="b" x1="-47.5" x2="47.5" y1="-48.25" y2="-48.25"/><text class="l" transform="translate(-11,31.6) rotate(-90) scale(1.2,1)" x="1.3" y="5.9">2C</text></g>
<g id="r8c11" transform="translate(1032.5,1050) rotate(180)"><rect class="t" x="-47.5" y="-69.25" width="95" height="138.5"/><line class="b" x1="-47.5" x2="47.5" y1="-23.25" y2="-23.25"/><text class="l" transform="translate(-11,31.6) rotate(-90) scale(1.2,1)" x="1.3" y="5.9">2B</text></g>
<g id="r8c12" transform="translate(1128,1050) rotate(180)"><rect class="t" x="-47" y="-69.25" width="94" height="138.5"/><text class="l" transform="translate(-7.9,7) rotate(-90) scale(1.2,1)" x="1.3" y="5.9">1</text></g>
<g id="r8c13" transform="translate(1222,1049) rotate(180)"><rect class="t" x="-47" y="-69.25" width="94" height="138.5"/><text class="l" transform="translate(-7.9,7) rotate(-90) scale(1.2,1)" x="1.3" y="5.9">1</text></g>
<g id="r8c14" transform="translate(1317,1047)"><rect class="t" x="-47" y="-69.25" width="94" height="138.5"/><line class="b" x1="-47" x2="47" y1="-23.25" y2="-23.25"/><text class="l" transform="translate(-11,31.6) rotate(-90) scale(1.2,1)" x="1.3" y="5.9">2B</text></g>
<g id="r8c15" transform="translate(1413,1048.5) rotate(180)"><rect class="t" x="-48" y="-69.25" width="96" height="138.5"/><line class="b" x1="-48" x2="48" y1="-23.25" y2="-23.25"/><text class="l" transform="translate(-11,31.6) rotate(-90) scale(1.2,1)" x="1.3" y="5.9">2B</text></g>
<g id="r8c16" transform="translate(1509,1048.5) rotate(180)"><rect class="t" x="-48" y="-69.25" width="96" height="138.5"/><line class="b" x1="-48" x2="48" y1="-48.25" y2="-48.25"/><text class="l" transform="translate(-11,31.6) rotate(-90) scale(1.2,1)" x="1.3" y="5.9">2C</text></g>

<g id="r9c1" transform="translate(78.5,1192.5)"><rect class="t" x="-47.5" y="-69.25" width="95" height="138.5"/><line class="b" x1="-47.5" x2="47.5" y1="-48.25" y2="-48.25"/><text class="l" transform="translate(-11,31.6) rotate(-90) scale(1.2,1)" x="1.3" y="5.9">2C</text></g>
<g id="r9c2" transform="translate(174,1191.5) rotate(180)"><rect class="t" x="-47" y="-69.25" width="94" height="138.5"/><text class="l" transform="translate(-7.9,7) rotate(-90) scale(1.2,1)" x="1.3" y="5.9">1</text></g>
<g id="r9c3" transform="translate(268,1192) rotate(180)"><rect class="t" x="-47" y="-69.25" width="94" height="138.5"/><line class="b" x1="-47" x2="47" y1="-23.25" y2="-23.25"/><text class="l" transform="translate(-11,31.6) rotate(-90) scale(1.2,1)" x="1.3" y="5.9">2B</text></g>
<g id="r9c4" transform="translate(363,1190) rotate(180)"><rect class="t" x="-48" y="-69.25" width="96" height="138.5"/><line class="b" x1="-48" x2="48" y1="0" y2="0"/><text class="l" transform="translate(-8,31.6) rotate(-90) scale(1.2,1)" x="1.3" y="5.9">2A</text></g>
<g id="r9c5" transform="translate(459.5,1190.5) rotate(180)"><rect class="t" x="-47.5" y="-69.25" width="95" height="138.5"/><text class="l" transform="translate(-7.9,7) rotate(-90) scale(1.2,1)" x="1.3" y="5.9">1</text></g>
<g id="r9c6" transform="translate(555,1190) rotate(180)"><rect class="t" x="-47" y="-69.25" width="94" height="138.5"/><text class="l" transform="translate(-7.9,7) rotate(-90) scale(1.2,1)" x="1.3" y="5.9">1</text></g>
<g id="r9c7" transform="translate(650.5,1189) rotate(180)"><rect class="t" x="-46.5" y="-69.25" width="93" height="138.5"/><text class="l" transform="translate(-7.9,7) rotate(-90) scale(1.2,1)" x="1.3" y="5.9">1</text></g>
<g id="r9c8" transform="translate(745.5,1188.5) rotate(180)"><rect class="t" x="-46.5" y="-69.25" width="93" height="138.5"/><text class="l" transform="translate(-7.9,7) rotate(-90) scale(1.2,1)" x="1.3" y="5.9">1</text></g>
<g id="r9c9" transform="translate(839,1189)"><rect class="t" x="-47" y="-69.25" width="94" height="138.5"/><text class="l" transform="translate(-7.9,7) rotate(-90) scale(1.2,1)" x="1.3" y="5.9">1</text></g>
<g id="r9c10" transform="translate(934,1189)"><rect class="t" x="-47" y="-69.25" width="94" height="138.5"/><text class="l" transform="translate(-7.9,7) rotate(-90) scale(1.2,1)" x="1.3" y="5.9">1</text></g>
<g id="r9c11" transform="translate(1029.5,1190)"><rect class="t" x="-47.5" y="-69.25" width="95" height="138.5"/><text class="l" transform="translate(-7.9,7) rotate(-90) scale(1.2,1)" x="1.3" y="5.9">1</text></g>
<g id="r9c12" transform="translate(1125.5,1188)"><rect class="t" x="-47.5" y="-69.25" width="95" height="138.5"/><line class="b" x1="-47.5" x2="47.5" y1="-48.25" y2="-48.25"/><text class="l" transform="translate(-11,31.6) rotate(-90) scale(1.2,1)" x="1.3" y="5.9">2C</text></g>
<g id="r9c13" transform="translate(1222,1187)"><rect class="t" x="-48" y="-69.25" width="96" height="138.5"/><line class="b" x1="-48" x2="48" y1="-23.25" y2="-23.25"/><text class="l" transform="translate(-11,31.6) rotate(-90) scale(1.2,1)" x="1.3" y="5.9">2B</text></g>
<g id="r9c14" transform="translate(1319.5,1187.5)"><rect class="t" x="-47.5" y="-69.25" width="95" height="138.5"/><line class="b" x1="-47.5" x2="47.5" y1="0" y2="0"/><text class="l" transform="translate(-8,31.6) rotate(-90) scale(1.2,1)" x="1.3" y="5.9">2A</text></g>
<g id="r9c15" transform="translate(1414,1187.5) rotate(180)"><rect class="t" x="-46" y="-69.25" width="92" height="138.5"/><line class="b" x1="-46" x2="46" y1="-23.25" y2="-23.25"/><text class="l" transform="translate(-11,31.6) rotate(-90) scale(1.2,1)" x="1.3" y="5.9">2B</text></g>
<g id="r9c16" transform="translate(1508,1188) rotate(180)"><rect class="t" x="-48" y="-69.25" width="96" height="138.5"/><line class="b" x1="-48" x2="48" y1="-48.25" y2="-48.25"/><text class="l" transform="translate(-11,31.6) rotate(-90) scale(1.2,1)" x="1.3" y="5.9">2C</text></g>

<g id="r10c1" transform="translate(79,1331)"><rect class="t" x="-48" y="-69.25" width="96" height="138.5"/><line class="b" x1="-48" x2="48" y1="-48.25" y2="-48.25"/><text class="l" transform="translate(-11,31.6) rotate(-90) scale(1.2,1)" x="1.3" y="5.9">2C</text></g>
<g id="r10c2" transform="translate(174,1331)"><rect class="t" x="-47" y="-69.25" width="94" height="138.5"/><line class="b" x1="-47" x2="47" y1="-23.25" y2="-23.25"/><text class="l" transform="translate(-11,31.6) rotate(-90) scale(1.2,1)" x="1.3" y="5.9">2B</text></g>
<g id="r10c3" transform="translate(269,1333) rotate(180)"><rect class="t" x="-47" y="-69.25" width="94" height="138.5"/><text class="l" transform="translate(-7.9,7) rotate(-90) scale(1.2,1)" x="1.3" y="5.9">1</text></g>
<g id="r10c4" transform="translate(364,1330) rotate(180)"><rect class="t" x="-47" y="-69.25" width="94" height="138.5"/><text class="l" transform="translate(-7.9,7) rotate(-90) scale(1.2,1)" x="1.3" y="5.9">1</text></g>
<g id="r10c5" transform="translate(460,1331) rotate(180)"><rect class="t" x="-48" y="-69.25" width="96" height="138.5"/><text class="l" transform="translate(-7.9,7) rotate(-90) scale(1.2,1)" x="1.3" y="5.9">1</text></g>
<g id="r10c6" transform="translate(556.5,1330)"><rect class="t" x="-46.5" y="-69.25" width="93" height="138.5"/><line class="b" x1="-46.5" x2="46.5" y1="-48.25" y2="-48.25"/><text class="l" transform="translate(-11,31.6) rotate(-90) scale(1.2,1)" x="1.3" y="5.9">2C</text></g>
<g id="r10c7" transform="translate(651.5,1329) rotate(180)"><rect class="t" x="-46.5" y="-69.25" width="93" height="138.5"/><text class="l" transform="translate(-7.9,7) rotate(-90) scale(1.2,1)" x="1.3" y="5.9">1</text></g>
<g id="r10c8" transform="translate(746,1327) rotate(180)"><rect class="t" x="-47" y="-69.25" width="94" height="138.5"/><text class="l" transform="translate(-7.9,7) rotate(-90) scale(1.2,1)" x="1.3" y="5.9">1</text></g>
<g id="r10c9" transform="translate(839,1327)"><rect class="t" x="-47" y="-69.25" width="94" height="138.5"/><line class="b" x1="-47" x2="47" y1="-48.25" y2="-48.25"/><text class="l" transform="translate(-11,31.6) rotate(-90) scale(1.2,1)" x="1.3" y="5.9">2C</text></g>
<g id="r10c10" transform="translate(933.5,1325)"><rect class="t" x="-47.5" y="-69.25" width="95" height="138.5"/><line class="b" x1="-47.5" x2="47.5" y1="-23.25" y2="-23.25"/><text class="l" transform="translate(-11,31.6) rotate(-90) scale(1.2,1)" x="1.3" y="5.9">2B</text></g>
<g id="r10c11" transform="translate(1029.5,1325)"><rect class="t" x="-47.5" y="-69.25" width="95" height="138.5"/><line class="b" x1="-47.5" x2="47.5" y1="-23.25" y2="-23.25"/><text class="l" transform="translate(-11,31.6) rotate(-90) scale(1.2,1)" x="1.3" y="5.9">2B</text></g>
<g id="r10c12" transform="translate(1126.5,1327)"><rect class="t" x="-47.5" y="-69.25" width="95" height="138.5"/><line class="b" x1="-47.5" x2="47.5" y1="0" y2="0"/><text class="l" transform="translate(-8,31.6) rotate(-90) scale(1.2,1)" x="1.3" y="5.9">2A</text></g>
<g id="r10c13" transform="translate(1222.5,1327)"><rect class="t" x="-47.5" y="-69.25" width="95" height="138.5"/><line class="b" x1="-47.5" x2="47.5" y1="0" y2="0"/><text class="l" transform="translate(-8,31.6) rotate(-90) scale(1.2,1)" x="1.3" y="5.9">2A</text></g>
<g id="r10c14" transform="translate(1320,1327) rotate(180)"><rect class="t" x="-48" y="-69.25" width="96" height="138.5"/><line class="b" x1="-48" x2="48" y1="-23.25" y2="-23.25"/><text class="l" transform="translate(-11,31.6) rotate(-90) scale(1.2,1)" x="1.3" y="5.9">2B</text></g>
<g id="r10c15" transform="translate(1414.5,1326) rotate(180)"><rect class="t" x="-46.5" y="-69.25" width="93" height="138.5"/><line class="b" x1="-46.5" x2="46.5" y1="-23.25" y2="-23.25"/><text class="l" transform="translate(-11,31.6) rotate(-90) scale(1.2,1)" x="1.3" y="5.9">2B</text></g>
<g id="r10c16" transform="translate(1509,1327) rotate(180)"><rect class="t" x="-47" y="-69.25" width="94" height="138.5"/><line class="b" x1="-47" x2="47" y1="-48.25" y2="-48.25"/><text class="l" transform="translate(-11,31.6) rotate(-90) scale(1.2,1)" x="1.3" y="5.9">2C</text></g>
</g>
</svg>
